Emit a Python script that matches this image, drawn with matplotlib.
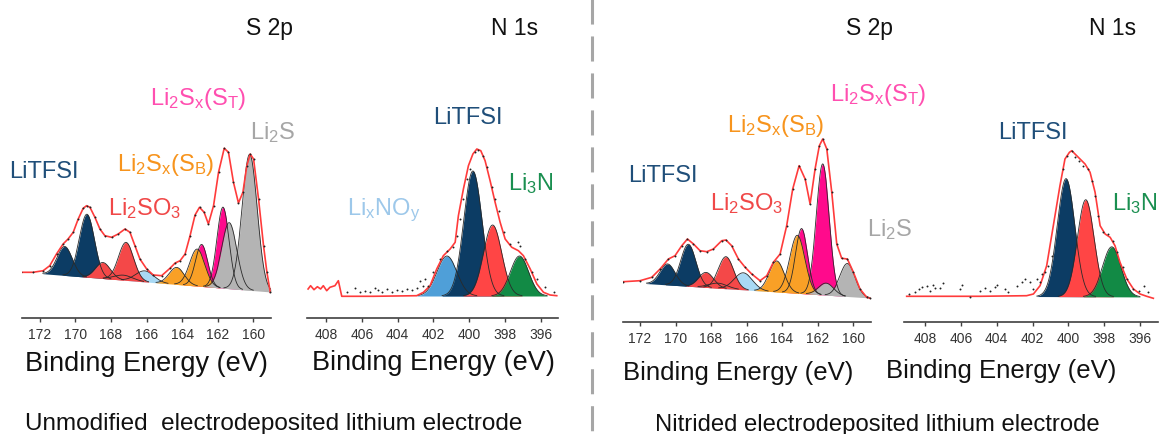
import numpy as np
import matplotlib.pyplot as plt
from matplotlib.lines import Line2D

plt.rcParams['font.family'] = ['Liberation Sans', 'DejaVu Sans']
plt.rcParams['mathtext.fontset'] = 'custom'
plt.rcParams['mathtext.rm'] = 'Liberation Sans'
plt.rcParams['mathtext.it'] = 'Liberation Sans:italic'
plt.rcParams['mathtext.default'] = 'regular'

W, H = 1159, 435

# --- fitted components (centre eV, height above background, FWHM eV) ---
# unmodified electrode, S 2p
su_center = [170.6, 169.35, 168.45, 167.15, 167.3, 166.1, 164.3, 163.15, 162.9, 161.7, 161.35, 160.2]
su_height = [29, 63, 16, 38, 5, 11, 17, 37, 42, 81, 66, 136]
su_fwhm = [1.0, 1.0, 1.0, 1.0, 1.2, 1.2, 1.0, 1.0, 0.8, 0.8, 1.0, 1.0]
su_species = ['tfsi', 'tfsi', 'so3', 'so3', 'lb', 'lb', 'sb', 'sb', 'st', 'st', 'li2s', 'li2s']
su_bg_e = [159.0, 173.0]
su_bg_i = [26, 46]

# unmodified electrode, N 1s
nu_center = [401.25, 399.8, 398.7, 397.2]
nu_height = [40, 125, 71, 40]
nu_fwhm = [1.3, 1.2, 1.2, 1.2]
nu_species = ['nox', 'tfsi', 'nred', 'li3n']
nu_bg_e = [395.0, 409.0]
nu_bg_i = [22, 22]

# nitrided electrode, S 2p
sn_center = [170.45, 169.28, 168.28, 167.16, 167.6, 166.18, 164.3, 163.14, 162.9, 161.71, 161.52, 160.32]
sn_height = [21, 42, 15, 32, 5, 17, 31, 58, 65, 131, 12, 33]
sn_fwhm = [1.0, 1.0, 1.0, 1.0, 1.2, 1.2, 1.0, 1.0, 0.8, 0.85, 1.0, 1.0]
sn_species = ['tfsi', 'tfsi', 'so3', 'so3', 'lb', 'lb', 'sb', 'sb', 'st', 'st', 'li2s', 'li2s']
sn_bg_e = [159.0, 173.0]
sn_bg_i = [24, 40]

# nitrided electrode, N 1s
nn_center = [400.13, 399.03, 397.58]
nn_height = [118, 97, 50]
nn_fwhm = [1.15, 1.1, 1.2]
nn_species = ['tfsi', 'nred', 'li3n']
nn_bg_e = [395.0, 409.2]
nn_bg_i = [25, 26]

# --- fit envelopes (red lines) ---
su_env_e = [173.03, 172.38, 171.81, 171.44, 171.06, 170.69, 170.41, 170.12, 169.84, 169.56,
            169.37, 169.18, 168.90, 168.62, 168.34, 167.96, 167.59, 167.21, 166.93, 166.65,
            166.37, 165.99, 165.62, 165.15, 164.68, 164.39, 164.11, 163.83, 163.55, 163.27,
            163.02, 162.76, 162.52, 162.23, 161.95, 161.63, 161.39, 161.11, 160.83, 160.58,
            160.36, 160.17, 159.98, 159.70, 159.42, 159.23, 159.04]
su_env_i = [45.7, 45.7, 47.3, 52.3, 64, 74, 79, 85.7, 99, 109.7,
            112.3, 110.7, 100.7, 89, 82.3, 80.7, 84, 89, 85.7, 72.3,
            59, 49, 43, 42.3, 49.7, 55, 57.3, 64, 82.3, 103,
            110.7, 105.7, 94, 112.3, 145.7, 169.7, 165.7, 135.7, 115, 125.7,
            152.3, 164, 159, 119, 72.3, 45.7, 25.7]

nu_env_e = [409.0, 408.86, 408.67, 408.48, 408.30, 408.15, 407.96, 407.78, 407.50, 407.31,
            407.12, 405.36, 402.94, 402.56, 402.19, 401.82, 401.45, 401.07, 400.79, 400.61,
            400.33, 400.05, 399.80, 399.58, 399.36, 399.12, 398.84, 398.56, 398.28, 398.00,
            397.63, 397.26, 396.98, 396.60, 396.23, 395.86, 395.49, 395.12]
nu_env_i = [29, 32.3, 28.3, 31.3, 29, 32.3, 27.3, 30.7, 32.3, 37.3,
            21.7, 21.7, 22.3, 25.7, 32.3, 49, 62.3, 69, 75.7, 102.3,
            129, 152.3, 164, 169, 167.3, 157.3, 137.3, 115.7, 95.7, 79,
            70.7, 67.3, 62.3, 49, 34, 25.7, 23, 22.3]

sn_env_e = [172.94, 172.00, 171.34, 170.87, 170.40, 170.03, 169.65, 169.33, 168.99, 168.62,
            168.24, 167.87, 167.40, 167.16, 166.84, 166.46, 166.08, 165.71, 165.24, 164.86,
            164.49, 164.11, 163.74, 163.40, 163.04, 162.70, 162.42, 162.14, 161.90, 161.71,
            161.48, 161.20, 160.92, 160.64, 160.32, 159.98, 159.61, 159.23, 159.04]
sn_env_i = [40.3, 41.3, 44.7, 53, 63, 66.3, 76.3, 83, 78, 71.3,
            70.3, 73, 81.3, 82, 76.3, 63, 54.7, 48, 41.3, 46.3,
            59.7, 68, 96.3, 133, 156.3, 143, 118, 153, 176.3, 183,
            173, 129.7, 78, 63.7, 63, 49.7, 33, 24.7, 23.7]

nn_env_e = [409.02, 404.93, 402.33, 401.95, 401.58, 401.21, 400.84, 400.47, 400.19, 399.94,
            399.81, 399.63, 399.35, 399.07, 398.79, 398.51, 398.23, 397.95, 397.67, 397.40,
            397.12, 396.74, 396.37, 396.00, 395.63, 395.26]
nn_env_i = [25.7, 25.7, 26.3, 28, 36.3, 56.3, 96.3, 136.3, 163, 169.7,
            171.3, 168, 163, 158, 149.7, 129.7, 96.3, 88, 84.7, 76.3,
            59.7, 43, 33, 28, 25.7, 23.7]

# --- measured points (N 1s; S 2p points sit on the envelope) ---
nu_dot_e = [406.85, 406.38, 406.10, 405.82, 405.54, 405.26, 405.08, 404.89, 404.61, 404.33,
            404.05, 403.77, 403.49, 403.21, 402.93, 402.75, 402.60, 402.47, 402.28, 402.00,
            401.63, 401.26, 400.89, 400.70, 400.51, 400.33, 400.14, 399.96, 399.68, 399.49,
            399.25, 399.02, 398.74, 398.56, 398.37, 398.09, 397.72, 397.31, 397.16, 396.88,
            396.51, 396.23, 395.77, 395.30]
nu_dot_i = [26.3, 29.7, 25.7, 27.3, 25.7, 29.7, 28.3, 25.7, 29, 25.7,
            28.3, 27.3, 29, 28, 29.7, 37.3, 32.3, 39, 32.3, 45.7,
            59, 67.3, 70.7, 82.3, 99, 119, 139, 149, 165.7, 168.3,
            162.3, 150.7, 130.7, 119, 107.3, 85.7, 74, 76.3, 72.3, 59,
            45.7, 39, 30.7, 25.7]

nn_dot_e = [408.87, 408.56, 408.32, 408.19, 407.91, 407.72, 407.53, 407.44, 407.16, 407.01,
            406.05, 405.95, 405.49, 404.93, 404.65, 404.37, 404.09, 404.00, 403.53, 403.35,
            402.88, 402.60, 402.42, 402.14, 401.95, 401.77, 401.58, 401.49, 401.30, 401.12,
            400.93, 400.32, 400.06, 399.81, 399.63, 399.39, 399.16, 398.88, 398.70, 398.51,
            398.33, 398.05, 397.77, 397.49, 397.27, 396.97, 396.71, 396.37, 396.04, 395.78,
            395.53]
nn_dot_i = [28, 30.3, 33, 35.3, 36.3, 31.3, 37, 33.7, 33.7, 39,
            33, 37.3, 25.3, 30.7, 33.7, 30.7, 34.7, 37, 33, 29.7,
            36.3, 39.7, 43, 39.7, 33, 43, 39.7, 48, 49.7, 56.3,
            66.3, 153, 166.3, 171.3, 164.7, 161.3, 156.3, 153, 141.3, 126.3,
            106.3, 89.7, 88, 81.3, 69.7, 54.7, 43, 33, 31.3, 36.3,
            29.7]

s2p_ticks = [172, 170, 168, 166, 164, 162, 160]
n1s_ticks = [408, 406, 404, 402, 400, 398, 396]

fill = {'tfsi': '#0c3c64', 'so3': '#f44848', 'lb': '#a9d9f4', 'sb': '#f9a026',
        'st': '#ff0a8c', 'li2s': '#b4b4b4', 'nox': '#4f9fd8', 'nred': '#ff4545',
        'li3n': '#128a45'}
layer = ['lb', 'st', 'nox', 'tfsi', 'so3', 'nred', 'sb', 'li3n', 'li2s']


def px(x, y):
    return x / W, 1 - y / H


def panel(rect, xlim, ticks, center, height, fwhm, species, bg_e, bg_i,
          env_e, env_i, dot_e, dot_i):
    ax = fig.add_axes(rect)
    x = np.linspace(xlim[1], xlim[0], 900)
    bg = np.interp(x, bg_e, bg_i)
    idx = sorted(range(len(center)), key=lambda k: layer.index(species[k]))
    for k in idx:
        g = height[k] * np.exp(-4 * np.log(2) * (x - center[k]) ** 2 / fwhm[k] ** 2)
        m = g > 0.4
        ax.fill_between(x[m], bg[m], bg[m] + g[m], color=fill[species[k]], lw=0)
        ax.plot(x[m], bg[m] + g[m], color='#2a2a2a', lw=0.6)
    ax.plot(env_e, env_i, color='#ff3b3b', lw=1.2)
    ax.plot(dot_e, dot_i, 'o', color='#222222', ms=1.4, mew=0)
    ax.set_xlim(xlim)
    ax.set_ylim(0, 259)
    ax.set_xticks(ticks)
    ax.set_yticks([])
    for s in ['left', 'right', 'top']:
        ax.spines[s].set_visible(False)
    ax.spines['bottom'].set_color('#404040')
    ax.spines['bottom'].set_linewidth(1.2)
    ax.tick_params(axis='x', length=3, width=1, color='#404040', labelsize=10,
                   labelcolor='#333333', pad=3.5)
    ax.patch.set_alpha(0)
    return ax


fig = plt.figure(figsize=(W / 100, H / 100), dpi=100)

panel([22 / W, (H - 319) / H, 249 / W, 259 / H], (173.0, 159.0), s2p_ticks,
      su_center, su_height, su_fwhm, su_species, su_bg_e, su_bg_i,
      su_env_e, su_env_i, su_env_e, su_env_i)
panel([307 / W, (H - 319) / H, 251 / W, 259 / H], (409.06, 395.05), n1s_ticks,
      nu_center, nu_height, nu_fwhm, nu_species, nu_bg_e, nu_bg_i,
      nu_env_e, nu_env_i, nu_dot_e, nu_dot_i)
panel([623 / W, (H - 323) / H, 248 / W, 259 / H], (172.96, 158.99), s2p_ticks,
      sn_center, sn_height, sn_fwhm, sn_species, sn_bg_e, sn_bg_i,
      sn_env_e, sn_env_i, sn_env_e, sn_env_i)
panel([904 / W, (H - 323) / H, 254 / W, 259 / H], (409.17, 395.0), n1s_ticks,
      nn_center, nn_height, nn_fwhm, nn_species, nn_bg_e, nn_bg_i,
      nn_env_e, nn_env_i, nn_dot_e, nn_dot_i)

# panel titles
for x, t in [(269, 'S 2p'), (515, 'N 1s'), (869, 'S 2p'), (1113, 'N 1s')]:
    fig.text(*px(x, 35), t, ha='center', va='baseline', fontsize=16.5, color='#111111')

# axis labels
for x, y, fs in [(146, 371.5, 19.5), (433, 370.5, 19.5), (738, 380, 18.5), (1001, 378, 18.5)]:
    fig.text(*px(x, y), 'Binding Energy (eV)', ha='center', va='baseline',
             fontsize=fs, color='#111111')

# component labels
c_tfsi, c_so3, c_sb, c_st = '#1f4e79', '#f04848', '#f7941d', '#ff4fb0'
c_li2s, c_nox, c_li3n = '#a6a6a6', '#9dc8ea', '#1a8f50'
labels = [
    (9, 178, 'LiTFSI', c_tfsi), (108, 215.5, r'Li$_2$SO$_3$', c_so3),
    (117, 171, r'Li$_2$S$_x$(S$_B$)', c_sb), (150, 105.5, r'Li$_2$S$_x$(S$_T$)', c_st),
    (250, 139, r'Li$_2$S', c_li2s),
    (433, 124, 'LiTFSI', c_tfsi), (347, 215.5, r'Li$_x$NO$_y$', c_nox),
    (508, 190.5, r'Li$_3$N', c_li3n),
    (628, 182, 'LiTFSI', c_tfsi), (710, 210.5, r'Li$_2$SO$_3$', c_so3),
    (727, 132, r'Li$_2$S$_x$(S$_B$)', c_sb), (830, 100.5, r'Li$_2$S$_x$(S$_T$)', c_st),
    (867, 236, r'Li$_2$S', c_li2s),
    (998, 139, 'LiTFSI', c_tfsi), (1112, 210.5, r'Li$_3$N', c_li3n),
]
for x, y, t, c in labels:
    fig.text(*px(x, y), t, ha='left', va='baseline', fontsize=17, color=c)

# captions
fig.text(*px(25, 430), 'Unmodified  electrodeposited lithium electrode', ha='left',
         va='baseline', fontsize=17.5, color='#111111')
fig.text(*px(655, 431), 'Nitrided electrodeposited lithium electrode', ha='left',
         va='baseline', fontsize=17.2, color='#111111')

# divider
fig.add_artist(Line2D([591.5 / W, 591.5 / W], [1, 0], transform=fig.transFigure,
                      color='#a6a6a6', lw=2.2, linestyle=(0, (8.2, 3.9))))

fig.savefig('out.png', dpi=100)
